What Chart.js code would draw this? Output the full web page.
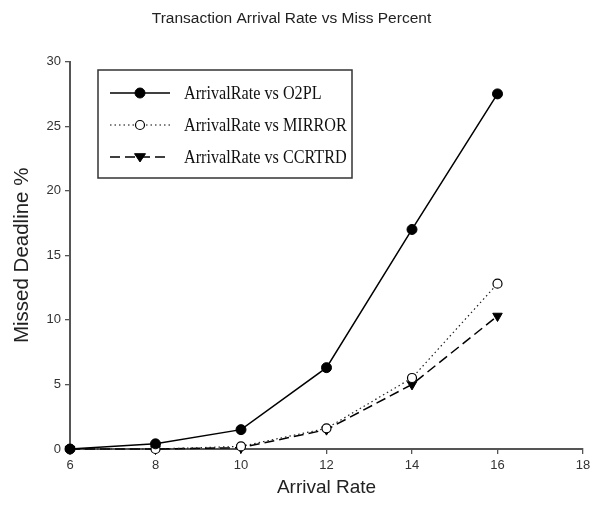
<!DOCTYPE html>
<html>
<head>
<meta charset="utf-8">
<script src="https://cdn.jsdelivr.net/npm/chart.js@4"></script>
<style>
  html, body { margin: 0; padding: 0; background: #fff; }
  #wrap { width: 593px; height: 516px; }
</style>
</head>
<body>
<div id="wrap"><canvas id="missChart" width="593" height="516"></canvas></div>
<script>
const arrivalRates = [6, 8, 10, 12, 14, 16];
const o2pl = [0, 0.4, 1.5, 6.3, 17.0, 27.5];
const mirror = [0, 0, 0.2, 1.6, 5.5, 12.8];
const ccrtrd = [0, 0, 0.1, 1.5, 5.0, 10.3];
const seriesNames = ["ArrivalRate vs O2PL", "ArrivalRate vs MIRROR", "ArrivalRate vs CCRTRD"];

function pts(vals) {
    return arrivalRates.map((x, i) => ({ x: x, y: vals[i] }));
}

// legend box drawn inside the plot, like the original figure
const boxLegend = {
    id: "boxLegend",
    afterDraw(chart) {
        const ctx = chart.ctx;
        const x0 = 98, y0 = 70, w = 254, h = 108;
        ctx.save();
        ctx.strokeStyle = "#333";
        ctx.lineWidth = 1.5;
        ctx.strokeRect(x0, y0, w, h);
        chart.data.datasets.forEach((ds, i) => {
            const y = 93 + i * 32;
            ctx.beginPath();
            ctx.setLineDash(ds.borderDash || []);
            ctx.strokeStyle = "#000";
            ctx.lineWidth = ds.borderWidth;
            ctx.moveTo(110, y);
            ctx.lineTo(170, y);
            ctx.stroke();
            ctx.setLineDash([]);
            ctx.fillStyle = ds.pointBackgroundColor;
            ctx.strokeStyle = "#000";
            ctx.lineWidth = ds.pointBorderWidth;
            ctx.beginPath();
            if (ds.pointStyle === "circle") {
                ctx.arc(140, y, ds.pointRadius, 0, Math.PI * 2);
            } else {
                const r = ds.pointRadius;
                ctx.moveTo(140 - r, y - r * 0.6);
                ctx.lineTo(140 + r, y - r * 0.6);
                ctx.lineTo(140, y + r * 0.9);
                ctx.closePath();
            }
            ctx.fill();
            ctx.stroke();
            // the source figure's serif text is slightly narrow
            ctx.save();
            ctx.translate(184, y + 1);
            ctx.scale(0.83, 1);
            ctx.fillStyle = "#111";
            ctx.font = "19.5px 'Liberation Serif', 'DejaVu Serif', serif";
            ctx.textBaseline = "middle";
            ctx.textAlign = "left";
            ctx.fillText(ds.label, 0, 0);
            ctx.restore();
        });
        ctx.restore();
    }
};

const ctx = document.getElementById("missChart").getContext("2d");

new Chart(ctx, {
    type: "line",
    data: {
        datasets: [{
            label: seriesNames[0],
            data: pts(o2pl),
            borderColor: "#000",
            borderWidth: 1.5,
            pointStyle: "circle",
            pointRadius: 5,
            pointBackgroundColor: "#000",
            pointBorderColor: "#000",
            pointBorderWidth: 1
        }, {
            label: seriesNames[1],
            data: pts(mirror),
            borderColor: "#222",
            borderWidth: 1.2,
            borderDash: [1.5, 3],
            pointStyle: "circle",
            pointRadius: 4.5,
            pointBackgroundColor: "#fff",
            pointBorderColor: "#000",
            pointBorderWidth: 1.2
        }, {
            label: seriesNames[2],
            data: pts(ccrtrd),
            borderColor: "#000",
            borderWidth: 1.5,
            borderDash: [10, 5],
            pointStyle: "triangle",
            pointRotation: 180,
            pointRadius: 5.5,
            pointBackgroundColor: "#000",
            pointBorderColor: "#000",
            pointBorderWidth: 1
        }]
    },
    options: {
        responsive: false,
        animation: false,
        clip: false,
        layout: { padding: { top: 0, right: 10, bottom: 0, left: 0 } },
        plugins: {
            legend: { display: false },
            tooltip: { enabled: false },
            title: {
                display: true,
                text: "Transaction Arrival Rate vs Miss Percent",
                color: "#222",
                font: { family: "Arial, 'Liberation Sans', sans-serif", size: 15.5, weight: "normal" },
                padding: { top: 9, bottom: 34 }
            }
        },
        scales: {
            x: {
                type: "linear",
                min: 6,
                max: 18,
                ticks: {
                    stepSize: 2,
                    color: "#333",
                    padding: 4,
                    font: { family: "Arial, 'Liberation Sans', sans-serif", size: 13 }
                },
                grid: { display: true, drawOnChartArea: false, drawTicks: true, tickLength: 5, color: "#555", lineWidth: 1.3 },
                border: { display: true, color: "#555", width: 2 },
                title: {
                    display: true,
                    text: "Arrival Rate",
                    color: "#222",
                    font: { family: "Arial, 'Liberation Sans', sans-serif", size: 19 },
                    padding: { top: 4, bottom: 17 }
                },
                afterFit(scale) {
                    scale.height = 67;
                    scale.paddingLeft = 0;
                    scale.paddingRight = 0;
                }
            },
            y: {
                min: 0,
                max: 30,
                ticks: {
                    stepSize: 5,
                    color: "#333",
                    padding: 4,
                    font: { family: "Arial, 'Liberation Sans', sans-serif", size: 13 }
                },
                grid: { display: true, drawOnChartArea: false, drawTicks: true, tickLength: 5, color: "#555", lineWidth: 1.3 },
                border: { display: true, color: "#555", width: 2 },
                title: {
                    display: true,
                    text: "Missed Deadline %",
                    color: "#222",
                    font: { family: "Arial, 'Liberation Sans', sans-serif", size: 20.5 },
                    padding: { top: 10, bottom: 10 }
                },
                afterFit(scale) {
                    scale.width = 70;
                    scale.paddingTop = 0;
                    scale.paddingBottom = 0;
                }
            }
        }
    },
    plugins: [boxLegend]
});
</script>
</body>
</html>
